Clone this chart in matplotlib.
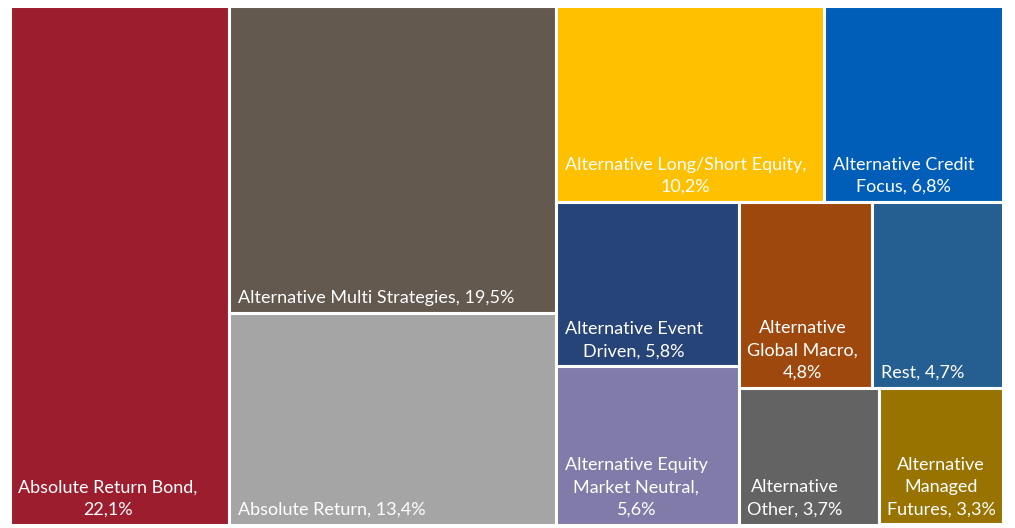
"""Treemap of fund category shares (squarified-style layout)."""
import matplotlib
matplotlib.use("Agg")
import matplotlib.pyplot as plt
from matplotlib.patches import Rectangle

plt.rcParams["font.family"] = ["Lato", "DejaVu Sans"]

labels = [
    "Absolute Return Bond,\n22,1%",
    "Alternative Multi Strategies, 19,5%",
    "Absolute Return, 13,4%",
    "Alternative Long/Short Equity,\n10,2%",
    "Alternative Credit\nFocus, 6,8%",
    "Alternative Event\nDriven, 5,8%",
    "Alternative Equity\nMarket Neutral,\n5,6%",
    "Alternative\nGlobal Macro,\n4,8%",
    "Rest, 4,7%",
    "Alternative\nOther, 3,7%",
    "Alternative\nManaged\nFutures, 3,3%",
]
shares = [22.1, 19.5, 13.4, 10.2, 6.8, 5.8, 5.6, 4.8, 4.7, 3.7, 3.3]
colors = ["#9B1D2E", "#63594E", "#A5A5A5", "#FFC000", "#005EB8", "#264478",
          "#807BA8", "#9E480E", "#255E91", "#636363", "#997300"]
# which items share a strip in the layout
groups = [[0], [1, 2], [3, 4], [5, 6], [7, 8], [9], [10]]


def layout(values, groups, w, h):
    """Strips laid along the shorter side of the remaining rectangle."""
    x0, y0 = 0.0, 0.0
    left = sum(values)
    rects = {}
    for g in groups:
        gsum = sum(values[i] for i in g)
        if w >= h:  # vertical strip on the left
            gw = w * gsum / left
            y = y0
            for i in g:
                ih = h * values[i] / gsum
                rects[i] = (x0, y, gw, ih)
                y += ih
            x0 += gw
            w -= gw
        else:  # horizontal strip on top
            gh = h * gsum / left
            x = x0
            for i in g:
                iw = w * values[i] / gsum
                rects[i] = (x, y0, iw, gh)
                x += iw
            y0 += gh
            h -= gh
        left -= gsum
    return [rects[i] for i in range(len(values))]


W, H = 993.5, 519.0
fig = plt.figure(figsize=(10.15, 5.28), dpi=100)
ax = fig.add_axes([9.5 / 1015, 3.5 / 528, W / 1015, H / 528])
ax.set_xlim(0, W)
ax.set_ylim(H, 0)
ax.axis("off")

for (x, y, w, h), lab, c in zip(layout(shares, groups, W, H), labels, colors):
    ax.add_patch(Rectangle((x, y), w, h, facecolor=c, edgecolor="white",
                           linewidth=2.2))
    ax.annotate(lab, (x, y + h), xytext=(6, 5), textcoords="offset points",
                ha="left", va="bottom", multialignment="center",
                color="white", fontsize=13, linespacing=1.48)

fig.savefig("out.png", dpi=100)
